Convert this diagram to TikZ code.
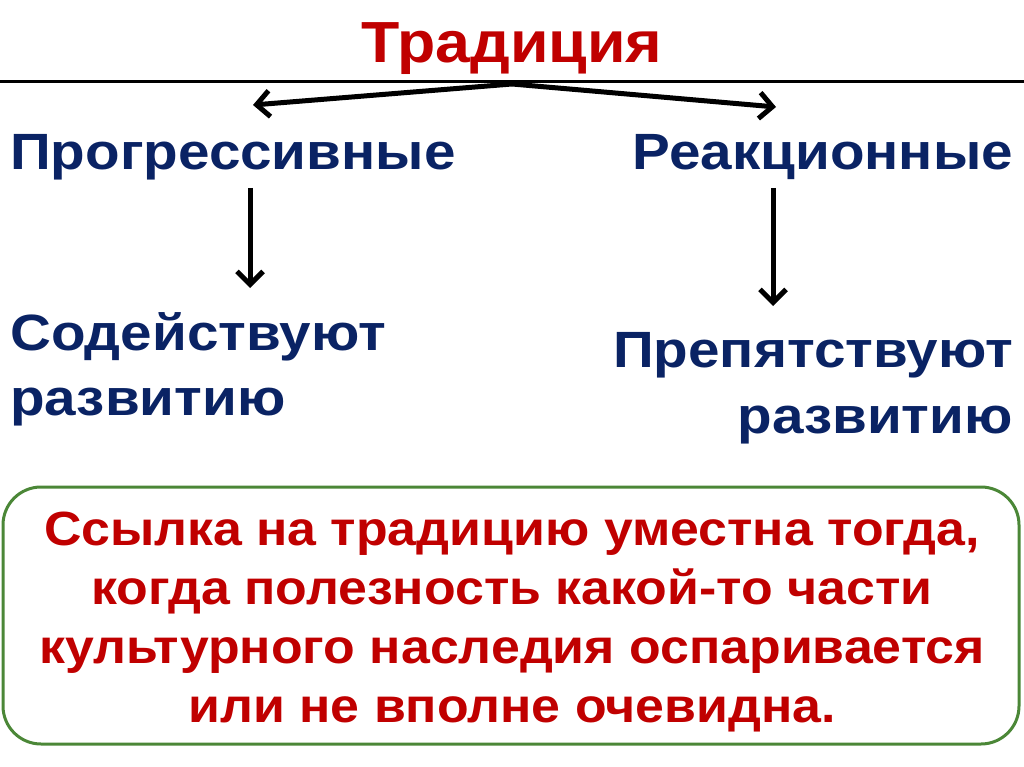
\documentclass[tikz,border=0pt]{standalone}
\usepackage{fontspec}
\setmainfont{Liberation Sans}
\newfontfamily\widekind{Liberation Sans}[FakeStretch=1.11]
\newfontfamily\widenote{Liberation Sans}[FakeStretch=1.08]
\usetikzlibrary{arrows.meta}
\definecolor{tred}{RGB}{192,0,0}
\definecolor{tblue}{RGB}{10,35,100}
\definecolor{tgreen}{RGB}{75,135,55}
\tikzset{
  title/.style={font=\widenote\bfseries\fontsize{58}{60}\selectfont, text=tred, inner sep=0pt},
  kind/.style={font=\widekind\bfseries\fontsize{51}{66}\selectfont, text=tblue, inner sep=0pt},
  note/.style={font=\widenote\bfseries\fontsize{48}{59}\selectfont, text=tred, inner sep=0pt, align=center},
  conn/.style={line width=5pt, -{Straight Barb[length=13pt,width=26pt,line width=5pt]}},
}
\begin{document}
\begin{tikzpicture}[x=1pt,y=-1pt]
\useasboundingbox (0,0) rectangle (1024,767);
\node[title, anchor=base] (t) at (512,63) {Традиция};
\draw[line width=3pt] (0,82) -- (1024,82);
\coordinate (top) at (512,84);
\coordinate (lt) at (253,105);
\coordinate (rt) at (776,107);
\node[kind, anchor=base west] (p) at (10,170) {Прогрессивные};
\node[kind, anchor=base east] (r) at (1013,170) {Реакционные};
\coordinate (pa) at (250,188);
\coordinate (pb) at (250,288);
\coordinate (ra) at (773,188);
\coordinate (rb) at (773,306);
\draw[conn] (top) -- (lt);
\draw[conn] (top) -- (rt);
\draw[conn] (pa) -- (pb);
\draw[conn] (ra) -- (rb);
\node[kind, anchor=base west] (s1) at (10,350) {Содействуют};
\node[kind, anchor=base west] (s2) at (10,415) {развитию};
\node[kind, anchor=base east] (q1) at (1013,367) {Препятствуют};
\node[kind, anchor=base east] (q2) at (1013,433) {развитию};
\draw[tgreen, line width=3pt, rounded corners=38pt] (3,487) rectangle (1019,744);
\node[note, anchor=base] (n1) at (512,545) {Ссылка на традицию уместна тогда,};
\node[note, anchor=base] (n2) at (512,604) {когда полезность какой-то части};
\node[note, anchor=base] (n3) at (512,663) {культурного наследия оспаривается};
\node[note, anchor=base] (n4) at (512,722) {или не вполне очевидна.};
\end{tikzpicture}
\end{document}
